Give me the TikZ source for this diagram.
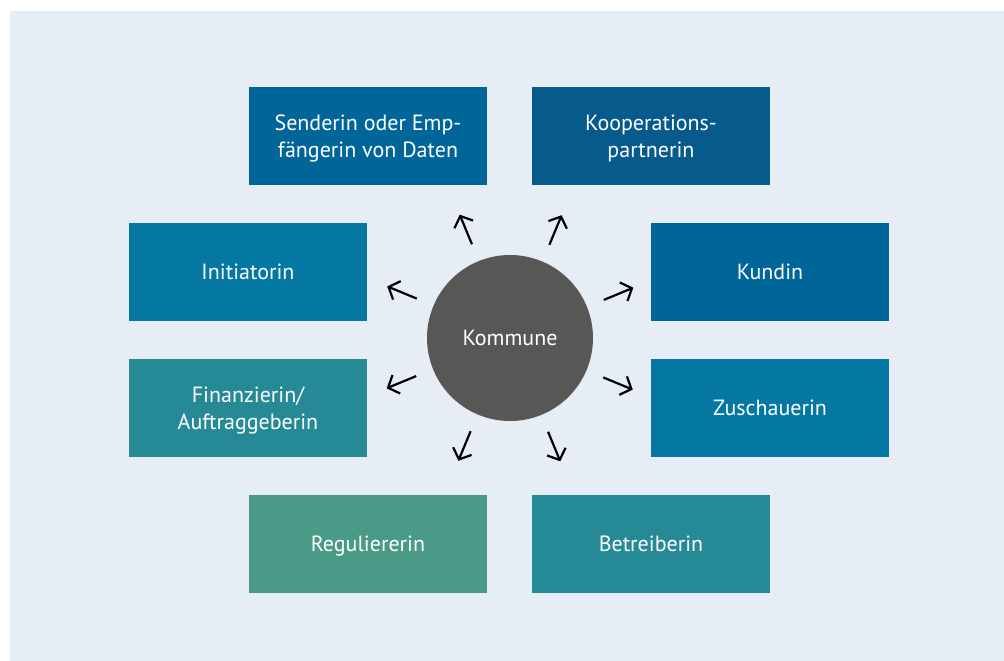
\documentclass[tikz,border=0pt]{standalone}
\usepackage{fontspec}
\setmainfont{PT Sans}
\usepackage{tikz}
\usetikzlibrary{arrows.meta}
\usepackage{xcolor}

\definecolor{bgblue}{HTML}{E6EDF4}
\definecolor{rolleblau}{HTML}{00669A}
\definecolor{rolledunkel}{HTML}{075A8C}
\definecolor{rollehell}{HTML}{0478A3}
\definecolor{rolletuerkis}{HTML}{268A96}
\definecolor{rollegruen}{HTML}{4A9A88}
\definecolor{kreisgrau}{HTML}{575756}

\begin{document}
\begin{tikzpicture}[x=1pt, y=1pt, node distance=136pt,
    rolle/.style={rectangle, minimum width=238pt, minimum height=98pt, inner sep=0pt,
        align=center, text=white, text depth=0pt, font=\fontsize{22}{27}\selectfont},
    pfeil/.style={line width=2.2pt, -{Straight Barb[length=9pt, width=20pt, line width=2.2pt]}}]
    % Background
    \useasboundingbox (0,0) rectangle (1004,-661);
    \fill[bgblue] (10,-11) rectangle (1004,-661);

    % Center
    \node[circle, fill=kreisgrau, minimum size=166pt, inner sep=0pt, text=white,
        font=\fontsize{22}{27}\selectfont] (kommune) at (510,-338) {Kommune};

    % Top row
    \node[rolle, fill=rolleblau] (sender) at (368,-136) {Senderin oder Emp-\\fängerin von Daten};
    \node[rolle, fill=rolledunkel, right of=sender, node distance=283pt] (kooperation) {Kooperations-\\partnerin};

    % Left column
    \node[rolle, fill=rollehell] (initiatorin) at (248,-272) {Initiatorin};
    \node[rolle, fill=rolletuerkis, below of=initiatorin] (finanzierin) {Finanzierin/\\Auftraggeberin};

    % Right column
    \node[rolle, fill=rolleblau, right of=initiatorin, node distance=522pt] (kundin) {Kundin};
    \node[rolle, fill=rollehell, below of=kundin] (zuschauerin) {Zuschauerin};

    % Bottom row
    \node[rolle, fill=rollegruen, below of=sender, node distance=408pt] (reguliererin) {Reguliererin};
    \node[rolle, fill=rolletuerkis, right of=reguliererin, node distance=283pt] (betreiberin) {Betreiberin};

    % Arrows
    \foreach \a [count=\i] in {22.5,67.5,...,337.5} {
        \path (kommune.\a) ++(\a:18pt) coordinate (start\i) ++(\a:32pt) coordinate (ende\i);
        \draw[pfeil] (start\i) -- (ende\i);
    }
\end{tikzpicture}
\end{document}
